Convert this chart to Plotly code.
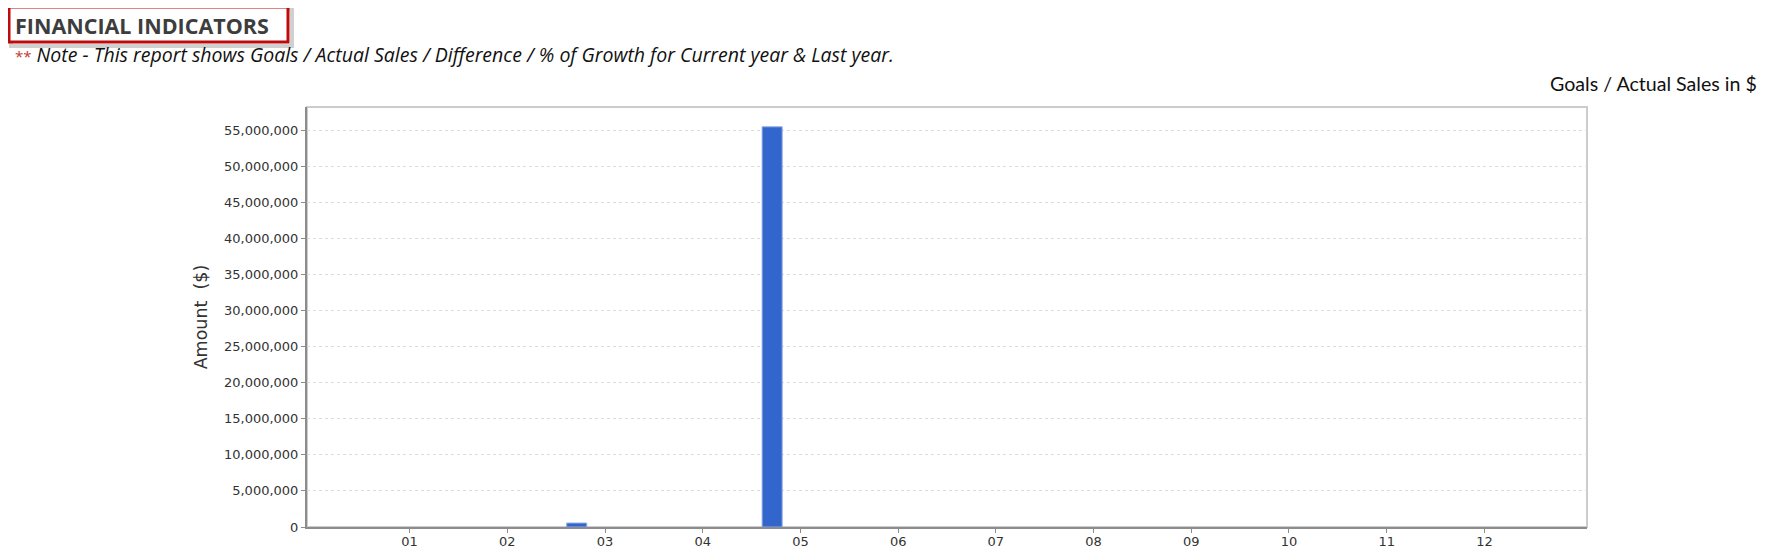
import plotly.graph_objects as go

# ---- data ----
months = ["01", "02", "03", "04", "05", "06", "07", "08", "09", "10", "11", "12"]
month_nums = [1, 2, 3, 4, 5, 6, 7, 8, 9, 10, 11, 12]
sales = [0, 0, 550000, 0, 55450000, 0, 0, 0, 0, 0, 0, 0]
y_ticks = [0, 5000000, 10000000, 15000000, 20000000, 25000000, 30000000,
           35000000, 40000000, 45000000, 50000000, 55000000]

# page body has an 8px margin; work in reference (screen) pixels and shift
OFF = 8
W, H = 1770 - 2 * OFF, 558 - 2 * OFF
L, R, T, B = 307 - OFF, 1587 - OFF, 107 - OFF, 527 - OFF


def px(xp):
    return (xp - OFF - L) / (R - L)


def py(yp):
    return (B - (yp - OFF)) / (B - T)


bar_y = [v if v else None for v in sales]

fig = go.Figure()
fig.add_trace(go.Bar(
    x=month_nums, y=bar_y,
    width=0.205, offset=-0.392,
    marker=dict(color="#3366CC", line=dict(color="#8FA9E6", width=1)),
    hoverinfo="x+y",
))

fig.update_layout(
    width=W, height=H,
    margin=dict(l=L, r=W - R, t=T, b=H - B, pad=0, autoexpand=False),
    paper_bgcolor="white", plot_bgcolor="white",
    showlegend=False,
    font=dict(family="DejaVu Sans", size=13, color="#333333"),
)

fig.update_xaxes(
    range=[-0.05, 13.05], tickmode="array", tickvals=month_nums, ticktext=months,
    automargin=False,
    showgrid=False, zeroline=False, showline=True, linecolor="#8c8c8c", linewidth=2,
    ticks="outside", ticklen=4, tickcolor="#8c8c8c", ticklabelstandoff=-3,
    tickfont=dict(family="DejaVu Sans", size=13, color="#333333"),
)
fig.update_yaxes(
    range=[0, 58200000], tickmode="array", tickvals=y_ticks,
    tickformat=",d", automargin=False,
    showgrid=True, gridcolor="#dcdcdc", griddash="dot", gridwidth=1,
    zeroline=False, showline=True, linecolor="#8c8c8c", linewidth=2,
    ticks="outside", ticklen=4, tickcolor="#8c8c8c",
    tickfont=dict(family="DejaVu Sans", size=13, color="#333333"),
    title=dict(text="Amount  ($)", standoff=12,
               font=dict(family="DejaVu Sans", size=17.5, color="#333333")),
)

shapes = []
# light plot frame (top/right)
shapes.append(dict(type="rect", xref="paper", yref="paper", x0=0, x1=1, y0=0, y1=1,
                   line=dict(color="#cccccc", width=2), layer="below"))
# title box shadow
shapes.append(dict(type="rect", xref="paper", yref="paper",
                   x0=px(11), x1=px(292), y0=py(9), y1=py(46),
                   line=dict(color="rgba(150,150,150,0.45)", width=4), layer="below"))
# title red box
shapes.append(dict(type="rect", xref="paper", yref="paper",
                   x0=px(9), x1=px(288), y0=py(7), y1=py(42),
                   fillcolor="white",
                   line=dict(color="#BE0A0A", width=3), layer="above"))
fig.update_layout(shapes=shapes)

annotations = [
    dict(text="<b>FINANCIAL INDICATORS</b>", xref="paper", yref="paper",
         x=px(13), y=py(25), xanchor="left", yanchor="middle", showarrow=False,
         font=dict(family="Open Sans", size=21.5, color="#3d3d3d")),
    dict(text="<span style='color:#C0392B;font-size:15px'>**</span> <i>Note - This report shows Goals / Actual Sales / Difference / % of Growth for Current year &amp; Last year.</i>",
         xref="paper", yref="paper",
         x=px(13), y=py(54), xanchor="left", yanchor="middle", showarrow=False,
         font=dict(family="Open Sans", size=19.5, color="#111111")),
    dict(text="Goals / Actual Sales in $", xref="paper", yref="paper",
         x=px(1759), y=py(84), xanchor="right", yanchor="middle", showarrow=False,
         font=dict(family="Lato", size=19.6, color="#111111")),
]
fig.update_layout(annotations=annotations)

fig.write_html("out.html")
